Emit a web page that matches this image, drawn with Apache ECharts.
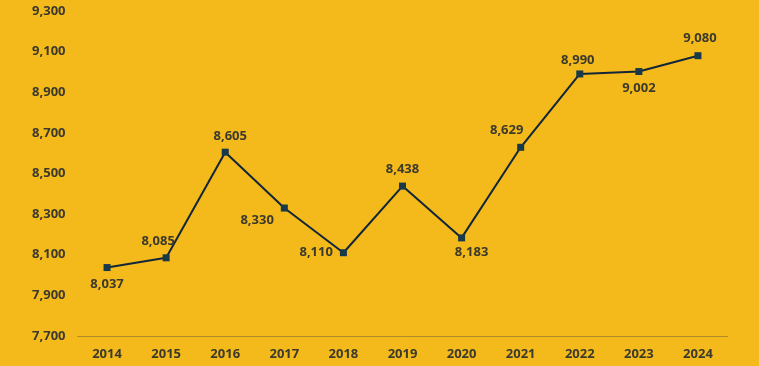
<!DOCTYPE html>
<html>
<head>
<meta charset="utf-8">
<script src="https://cdn.jsdelivr.net/npm/echarts@6/dist/echarts.min.js"></script>
<style>
html,body{margin:0;padding:0;background:#F4B91A;}
#c{width:759px;height:366px;}
</style>
</head>
<body>
<div id="c"></div>
<script>
const categories = ['2014','2015','2016','2017','2018','2019','2020','2021','2022','2023','2024'];
const values = [8037, 8085, 8605, 8330, 8110, 8438, 8183, 8629, 8990, 9002, 9080];
const labelPlacement = ['bottom','top','top','left','left','top','bottom','top','top','bottom','top'];
const labelShift = [[0,0],[-8,0],[5,1],[0,12],[0,0],[0,0],[10,-3],[-14,0],[-2,3],[0,0],[2,0]];

const chart = echarts.init(document.getElementById('c'));
const txt = '#3b3a2c';
chart.setOption({
  backgroundColor: '#F4B91A',
  animation: false,
  grid: {left: 77.5, right: 31.5, top: 11, bottom: 30},
  xAxis: {
    type: 'category',
    data: categories,
    boundaryGap: true,
    axisLine: {lineStyle: {color: '#b08a2a', width: 1}},
    axisTick: {show: false},
    axisLabel: {color: txt, fontFamily: 'Open Sans', fontWeight: 'bold', fontSize: 13, margin: 12}
  },
  yAxis: {
    type: 'value',
    min: 7700, max: 9300, interval: 200,
    splitLine: {show: false},
    axisLine: {show: false},
    axisTick: {show: false},
    axisLabel: {
      color: txt, fontFamily: 'Open Sans', fontWeight: 'bold', fontSize: 13, margin: 12,
      formatter: v => v.toLocaleString('en-US')
    }
  },
  series: [{
    type: 'line',
    data: values.map((v, i) => ({
      value: v,
      label: {position: labelPlacement[i], offset: labelShift[i]}
    })),
    symbol: 'rect',
    symbolSize: 7,
    lineStyle: {color: '#12263a', width: 2},
    itemStyle: {color: '#17394a'},
    label: {
      show: true,
      color: txt, fontFamily: 'Open Sans', fontWeight: 'bold', fontSize: 13,
      distance: 7,
      formatter: p => p.value.toLocaleString('en-US')
    }
  }]
});
</script>
</body>
</html>
